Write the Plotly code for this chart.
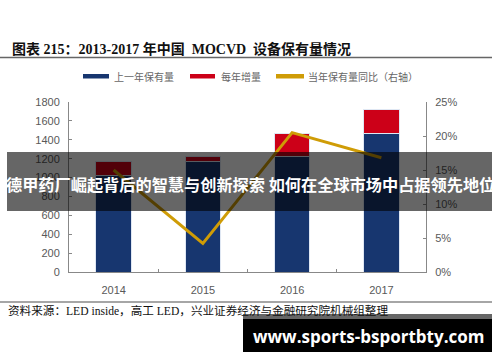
import plotly.graph_objects as go

years = ["2014", "2015", "2016", "2017"]
prev_stock = [1020, 1170, 1220, 1470]
increment = [150, 50, 250, 250]
growth = [0.150, 0.042, 0.205, 0.168]
series_names = ["上一年保有量", "每年增量", "当年保有量同比（右轴）"]
left_ticks = [0, 200, 400, 600, 800, 1000, 1200, 1400, 1600, 1800]
right_ticks = [0, 0.05, 0.10, 0.15, 0.20, 0.25]
right_tick_text = ["0%", "5%", "10%", "15%", "20%", "25%"]

BLUE = "#17366f"
RED = "#cc0018"
GOLD = "#cf9c06"
GRAY = "#595959"

W, H = 500, 362
L, R, T, B = 69, 74, 102, 90
PW, PH = W - L - R, H - T - B


def px(x):
    return (x - L) / PW


def py(y):
    return (H - B - y) / PH


fig = go.Figure()
fig.add_trace(go.Bar(x=years, y=prev_stock, name=series_names[0], marker=dict(color=BLUE, line=dict(color="#dfe7f3", width=1)), yaxis="y"))
fig.add_trace(go.Bar(x=years, y=increment, name=series_names[1], marker=dict(color=RED, line=dict(color="#dfe7f3", width=1)), yaxis="y"))
fig.add_trace(go.Scatter(x=years, y=growth, name=series_names[2], mode="lines", line=dict(color=GOLD, width=3), yaxis="y2"))

shapes = []
annotations = []

# title and rules
annotations.append(dict(xref="paper", yref="paper", x=px(10), y=py(49), xanchor="left", yanchor="middle",
                        text="<b>图表 215：2013-2017 年中国  MOCVD  设备保有量情况</b>", showarrow=False,
                        font=dict(family="Liberation Serif, Noto Sans CJK SC", size=14, color="#111111")))
shapes.append(dict(type="line", xref="paper", yref="paper", x0=px(0), x1=px(492), y0=py(57.5), y1=py(57.5), line=dict(color="#666666", width=1.5)))
shapes.append(dict(type="line", xref="paper", yref="paper", x0=px(0), x1=px(492), y0=py(302), y1=py(302), line=dict(color="#888888", width=1.5)))

# custom legend
leg = [(83, 109, BLUE, 112), (190, 215, RED, 219), (276, 304, GOLD, 306)]
for (x0, x1, c, tx), name in zip(leg, series_names):
    shapes.append(dict(type="rect", xref="paper", yref="paper", x0=px(x0), x1=px(x1), y0=py(78.5), y1=py(74), fillcolor=c, line=dict(width=0)))
    annotations.append(dict(xref="paper", yref="paper", x=px(tx), y=py(76), xanchor="left", yanchor="middle", text=name,
                            showarrow=False, font=dict(family="Noto Sans CJK SC", size=10, color="#666666")))

# source
annotations.append(dict(xref="paper", yref="paper", x=px(6), y=py(311), xanchor="left", yanchor="middle",
                        text="资料来源：LED inside，高工 LED，兴业证券经济与金融研究院机械组整理", showarrow=False,
                        font=dict(family="Liberation Serif, Noto Sans CJK SC", size=11.6, color="#111111")))

# overlay banner
shapes.append(dict(type="rect", xref="paper", yref="paper", x0=px(7), x1=px(492), y0=py(211), y1=py(152),
                   fillcolor="rgba(0,0,0,0.6)", line=dict(width=0), layer="above"))
annotations.append(dict(xref="paper", yref="paper", x=px(250), y=py(184), xanchor="center", yanchor="middle",
                        text="<b>德甲药厂崛起背后的智慧与创新探索 如何在全球市场中占据领先地位</b>", showarrow=False,
                        font=dict(family="Noto Sans CJK SC", size=16.2, color="white")))

# watermark box
shapes.append(dict(type="rect", xref="paper", yref="paper", x0=px(243), x1=px(492), y0=py(319), y1=py(314),
                   fillcolor="#666666", line=dict(width=0), layer="above"))
shapes.append(dict(type="rect", xref="paper", yref="paper", x0=px(243), x1=px(492), y0=py(352), y1=py(319),
                   fillcolor="#000000", line=dict(width=0), layer="above"))
annotations.append(dict(xref="paper", yref="paper", x=px(368), y=py(336), xanchor="center", yanchor="middle",
                        text="<b>www.sports-bsportbty.com</b>", showarrow=False,
                        font=dict(family="Open Sans", size=17, color="white")))

fig.update_layout(
    width=W, height=H,
    margin=dict(l=L, r=R, t=T, b=B),
    paper_bgcolor="white", plot_bgcolor="white",
    barmode="stack", bargap=0.6,
    showlegend=False,
    font=dict(family="Liberation Sans, Arial", size=11, color=GRAY),
    xaxis=dict(type="category", showgrid=False, showline=True, linecolor="#888888", linewidth=1,
               ticks="inside", tickson="boundaries", ticklen=3, tickcolor="#888888",
               tickfont=dict(size=11, color=GRAY), ticklabelstandoff=8),
    yaxis=dict(range=[0, 1800], tickvals=left_ticks, showgrid=False, showline=True, linecolor="#888888", linewidth=1,
               ticks="inside", ticklen=3, tickcolor="#888888", tickfont=dict(size=11, color=GRAY), zeroline=False,
               ticklabelstandoff=6),
    yaxis2=dict(range=[0, 0.25], overlaying="y", side="right", tickvals=right_ticks, ticktext=right_tick_text,
                showgrid=False, showline=True, linecolor="#888888", linewidth=1, ticks="inside", ticklen=3,
                tickcolor="#888888", tickfont=dict(size=11, color=GRAY), zeroline=False, ticklabelstandoff=6),
    shapes=shapes,
    annotations=annotations,
)

fig.write_html("out.html", config={"displayModeBar": False},
               post_script="document.body.style.margin='0';document.body.style.overflow='hidden';")
